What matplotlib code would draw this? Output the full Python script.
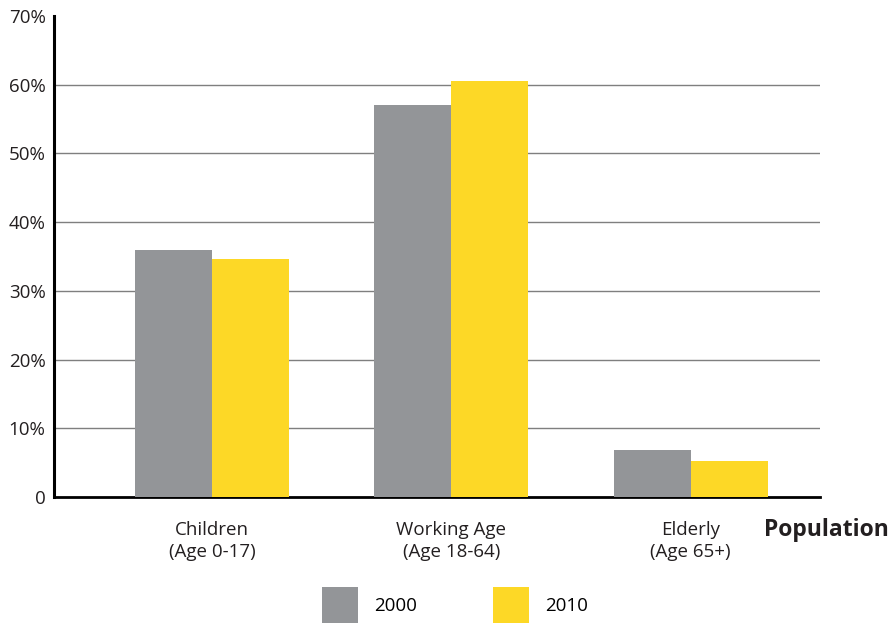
import matplotlib
matplotlib.use("Agg")
import matplotlib.pyplot as plt
from matplotlib.patches import Patch
import numpy as np

plt.rcParams['font.family'] = ['Open Sans', 'DejaVu Sans']

categories = ["Children\n(Age 0-17)", "Working Age\n(Age 18-64)", "Elderly\n(Age 65+)"]
series_names = ["2000", "2010"]
values_2000 = [36.0, 57.0, 6.8]
values_2010 = [34.6, 60.5, 5.2]
y_ticks = [0, 10, 20, 30, 40, 50, 60, 70]
y_tick_labels = ["0", "10%", "20%", "30%", "40%", "50%", "60%", "70%"]

gray = "#939598"
yellow = "#FDD826"
text_color = "#231f20"

fig = plt.figure(figsize=(8.9, 6.24), dpi=100)
ax = fig.add_axes([54/890, 1 - 497/624, (820-54)/890, (497-16)/624])

x = np.arange(len(categories))
w = 0.322
ax.bar(x - w/2, values_2000, width=w, color=gray, zorder=3)
ax.bar(x + w/2, values_2010, width=w, color=yellow, zorder=3)

ax.set_xlim(-0.66, 2.54)
ax.set_ylim(0, 70)
ax.set_yticks(y_ticks)
ax.set_yticklabels(y_tick_labels, fontsize=13.5, color=text_color)
ax.set_xticks(x)
ax.set_xticklabels(categories, fontsize=13.5, color=text_color, linespacing=1.3)
ax.tick_params(axis='x', length=0, pad=17)
ax.tick_params(axis='y', length=0, pad=6)

for v in y_ticks[1:-1]:
    ax.axhline(v, color="#7f7f7f", linewidth=1.0, zorder=1)

for s in ["top", "right"]:
    ax.spines[s].set_visible(False)
ax.spines["left"].set_linewidth(2.2)
ax.spines["bottom"].set_linewidth(2.0)
ax.spines["left"].set_color("#000000")
ax.spines["bottom"].set_color("#000000")

fig.text(826/890, 1 - 530/624, "Population", fontsize=16.5, fontweight="bold",
         color=text_color, ha="center", va="center")

handles = [Patch(facecolor=gray, edgecolor="none"), Patch(facecolor=yellow, edgecolor="none")]
fig.legend(handles, series_names, loc="center", bbox_to_anchor=(455/890, 1 - 605/624),
           ncol=2, frameon=False, fontsize=13.5, handlelength=1.92, handleheight=2.6,
           handletextpad=0.85, columnspacing=4.07, borderpad=0)

fig.savefig("out.png", dpi=100)
